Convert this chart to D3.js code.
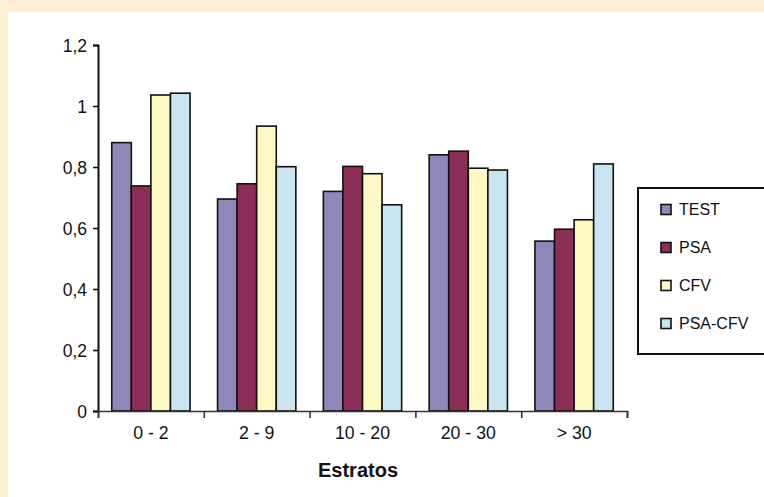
<!DOCTYPE html>
<html>
<head>
<meta charset="utf-8">
<script src="https://cdn.jsdelivr.net/npm/d3@7"></script>
<style>
  html, body { margin: 0; padding: 0; background: #FEEFD3; }
  svg { display: block; }
  text { font-family: "Liberation Sans", Arial, Helvetica, sans-serif; fill: #111; }
</style>
</head>
<body>
<svg id="chart" width="764" height="497"></svg>
<script>
const categories = ["0 - 2", "2 - 9", "10 - 20", "20 - 30", "> 30"];
const seriesNames = ["TEST", "PSA", "CFV", "PSA-CFV"];
const TEST = [0.88, 0.695, 0.72, 0.84, 0.557];
const PSA = [0.738, 0.745, 0.802, 0.852, 0.596];
const CFV = [1.036, 0.934, 0.778, 0.796, 0.627];
const PSA_CFV = [1.042, 0.801, 0.676, 0.790, 0.81];
const yTicks = [0, 0.2, 0.4, 0.6, 0.8, 1, 1.2];
const xTitle = "Estratos";
const colors = ["#8E88BA", "#8C2E58", "#FEF8C2", "#C8E6F1"];

const seriesValues = [TEST, PSA, CFV, PSA_CFV];
const svg = d3.select("#chart");

// white panel
svg.append("rect").attr("x", 8).attr("y", 12).attr("width", 764 - 8).attr("height", 497 - 12).attr("fill", "#ffffff");

const x0 = d3.scaleBand().domain(categories).range([98, 627]).padding(0);
const bw = x0.bandwidth();
const x1 = d3.scaleBand().domain(seriesNames).range([bw * 0.13, bw * 0.87]).padding(0);
const y = d3.scaleLinear().domain([0, 1.2]).range([411, 45]);
const color = d3.scaleOrdinal().domain(seriesNames).range(colors);

// bars
const data = categories.map((c, i) => ({cat: c, vals: seriesNames.map((s, j) => ({s, v: seriesValues[j][i]}))}));
const g = svg.append("g");
g.selectAll("g.grp").data(data).enter().append("g")
  .attr("transform", d => `translate(${x0(d.cat)},0)`)
  .selectAll("rect").data(d => d.vals).enter().append("rect")
  .attr("x", d => x1(d.s))
  .attr("y", d => y(d.v))
  .attr("width", x1.bandwidth())
  .attr("height", d => y(0) - y(d.v))
  .attr("fill", d => color(d.s))
  .attr("stroke", "#111")
  .attr("stroke-width", 1.6);

// y axis
const fmt = d => d3.format("~g")(d).replace(".", ",");
const yAxis = svg.append("g").attr("transform", "translate(98,0)")
  .call(d3.axisLeft(y).tickValues(yTicks).tickFormat(fmt).tickSize(5).tickPadding(6));
yAxis.select(".domain").attr("stroke", "#111").attr("stroke-width", 2);
yAxis.selectAll(".tick line").attr("stroke", "#111").attr("stroke-width", 1.6);
yAxis.selectAll(".tick text").attr("font-size", 17.5).attr("font-family", "Liberation Sans, Arial, sans-serif").attr("fill", "#111").attr("dy", "0.38em");

// x axis: boundary ticks
const xb = d3.scaleLinear().domain([0, categories.length]).range([98, 627]);
const xAxis = svg.append("g").attr("transform", "translate(0,411)")
  .call(d3.axisBottom(xb).ticks(categories.length).tickFormat("").tickSize(7));
xAxis.select(".domain").attr("stroke", "#333").attr("stroke-width", 1.6);
xAxis.selectAll(".tick line").attr("stroke", "#333").attr("stroke-width", 1.6);

// category labels
const xLab = svg.append("g").attr("transform", "translate(0,411)")
  .call(d3.axisBottom(x0).tickSize(0).tickPadding(15));
xLab.select(".domain").remove();
xLab.selectAll(".tick text").attr("font-size", 17.7).attr("font-family", "Liberation Sans, Arial, sans-serif").attr("fill", "#111");

// x title
svg.append("text").attr("x", 358).attr("y", 477).attr("text-anchor", "middle")
  .attr("font-size", 20).attr("font-weight", "bold").text(xTitle);

// legend
const lg = svg.append("g");
lg.append("rect").attr("x", 638).attr("y", 188).attr("width", 140).attr("height", 166)
  .attr("fill", "#fff").attr("stroke", "#111").attr("stroke-width", 2);
const ly = d3.scalePoint().domain(seriesNames).range([209.5, 323.5]);
const items = lg.selectAll("g.item").data(seriesNames).enter().append("g")
  .attr("transform", d => `translate(0,${ly(d)})`);
items.append("rect").attr("x", 661).attr("y", -5).attr("width", 10).attr("height", 10)
  .attr("fill", d => color(d)).attr("stroke", "#111").attr("stroke-width", 1.6);
items.append("text").attr("x", 679).attr("y", 0).attr("dy", "0.36em")
  .attr("font-size", 16).text(d => d);
</script>
</body>
</html>
